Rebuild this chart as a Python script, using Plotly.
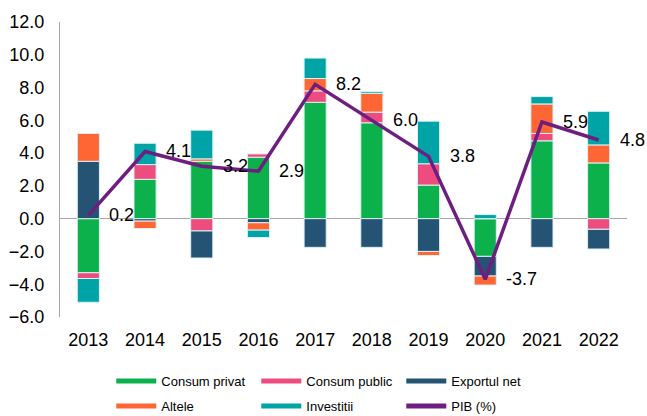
"""Contributia componentelor la cresterea PIB, 2013-2022."""

import plotly.graph_objects as go

years = ["2013", "2014", "2015", "2016", "2017", "2018", "2019", "2020", "2021", "2022"]
consum_privat = [-3.3, 2.4, 3.5, 3.75, 7.1, 5.85, 2.05, -2.3, 4.75, 3.4]
consum_public = [-0.35, 0.9, -0.75, 0.2, 0.7, 0.65, 1.3, 0.0, 0.45, -0.65]
exportul_net = [3.5, -0.15, -1.65, -0.25, -1.75, -1.75, -2.0, -1.2, -1.75, -1.2]
altele = [1.7, -0.45, 0.15, -0.45, 0.75, 1.15, -0.25, -0.55, 1.8, 1.1]
investitii = [-1.45, 1.3, 1.75, -0.45, 1.25, 0.1, 2.6, 0.25, 0.45, 2.05]
pib = [0.2, 4.1, 3.2, 2.9, 8.2, 6.0, 3.8, -3.7, 5.9, 4.8]

FONT = "Liberation Sans, Arial, sans-serif"

series = [
    ("Consum privat", consum_privat, "#0DB14B", "legend"),
    ("Consum public", consum_public, "#EC4D7E", "legend"),
    ("Exportul net", exportul_net, "#245374", "legend"),
    ("Altele", altele, "#FF6633", "legend2"),
    ("Investitii", investitii, "#00A3A6", "legend2"),
]
pib_color = "#6E1E80"

fig = go.Figure()

for name, vals, color, _ in series:
    fig.add_trace(
        go.Bar(
            x=years,
            y=vals,
            name=name,
            marker_color=color,
            marker_line=dict(color="#DDF1F4", width=1),
            showlegend=False,
        )
    )

fig.add_trace(
    go.Scatter(
        x=years,
        y=pib,
        name="PIB (%)",
        mode="lines",
        line=dict(color=pib_color, width=3.5),
        showlegend=False,
    )
)

# legend entries drawn as lines, like the original (two rows = two legends)
for name, _, color, leg in series:
    fig.add_trace(
        go.Scatter(
            x=[None], y=[None], name=name, mode="lines",
            line=dict(color=color, width=5), legend=leg,
        )
    )
fig.add_trace(
    go.Scatter(
        x=[None], y=[None], name="PIB (%)", mode="lines",
        line=dict(color=pib_color, width=5), legend="legend2",
    )
)

# category axis: annotations placed by category index
for i, v in enumerate(pib):
    fig.add_annotation(
        x=i, y=v, text=f"{v:.1f}", showarrow=False,
        xanchor="left", yanchor="middle", xshift=19,
        font=dict(size=18, color="#000000", family=FONT),
    )

legend_common = dict(
    orientation="h",
    xref="container",
    yref="container",
    x=0.172,
    xanchor="left",
    yanchor="middle",
    entrywidth=90,
    entrywidthmode="pixels",
    font=dict(size=13),
    itemwidth=40,
)

fig.update_layout(
    width=647,
    height=416,
    barmode="relative",
    bargap=0.61,
    plot_bgcolor="white",
    paper_bgcolor="white",
    margin=dict(l=60, r=20, t=22, b=99, autoexpand=False),
    font=dict(family=FONT, color="#000000"),
    legend=dict(legend_common, y=(416 - 381) / 416),
    legend2=dict(legend_common, y=(416 - 406) / 416),
    xaxis=dict(
        type="category",
        categoryorder="array",
        categoryarray=years,
        range=[-0.5, len(years) - 0.5],
        automargin=False,
        showgrid=False,
        showline=False,
        ticks="",
        tickfont=dict(size=18),
        ticklabelstandoff=10,
    ),
    yaxis=dict(
        range=[-6, 12],
        dtick=2,
        tickformat=".1f",
        automargin=False,
        showgrid=False,
        showline=True,
        linecolor="#A6A6A6",
        linewidth=1,
        zeroline=True,
        zerolinecolor="#A6A6A6",
        zerolinewidth=1,
        ticks="",
        tickfont=dict(size=18),
        ticklabelstandoff=11,
    ),
)

# drop the default page margin so the figure fills the window exactly
fig.write_html(
    "out.html",
    config={"displayModeBar": False},
    post_script="document.body.style.margin='0';document.body.style.overflow='hidden';",
)
